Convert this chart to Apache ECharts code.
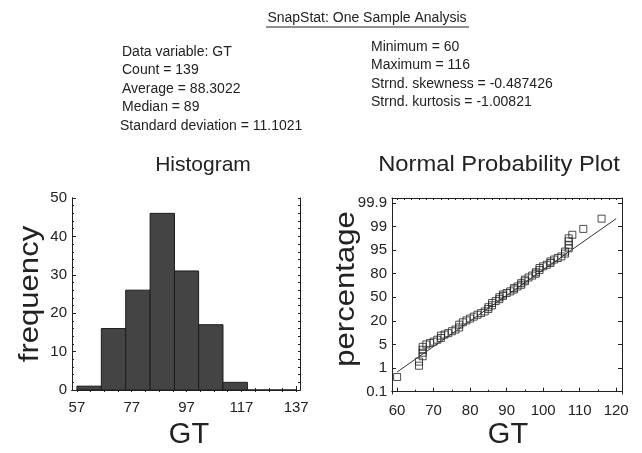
<!DOCTYPE html>
<html><head><meta charset="utf-8">
<script src="https://cdn.jsdelivr.net/npm/echarts@6/dist/echarts.min.js"></script>
<style>html,body{margin:0;padding:0;background:#fff}#c{width:642px;height:453px}</style>
</head><body><div id="c"></div>
<script>
// ---- Histogram data ----
const binStarts   = [57, 65.9, 74.8, 83.7, 92.6, 101.4, 110.3, 119.2, 128.1];
const binEnds     = [65.9, 74.8, 83.7, 92.6, 101.4, 110.3, 119.2, 128.1, 137];
const frequencies = [1, 16, 26, 46, 31, 17, 2, 0, 0];
const histXTickLabels = [57, 77, 97, 117, 137];
const histYTickLabels = [0, 10, 20, 30, 40, 50];

// ---- Normal probability plot data (GT, cumulative percentage) ----
const probGT  = [60, 66, 66, 67, 67, 67, 67, 68, 69, 70, 71, 72, 72, 73, 74, 75, 76, 77, 77, 78,
                 79, 80, 81, 82, 83, 84, 85, 85, 86, 86, 87, 88, 88, 89, 89, 90, 91, 92, 92, 93,
                 94, 94, 95, 95, 96, 97, 98, 98, 99, 99, 100, 101, 102, 102, 103, 104, 105, 106, 106, 107,
                 107, 107, 107, 108, 111, 116];
const probPct = [0.66, 1.4, 2.1, 3.0, 3.6, 4.1, 4.6, 5.0, 5.9, 6.8, 8.0, 9.1, 10.6, 11.3, 12.2, 13.4, 14.5, 15.8, 17.6, 19.1,
                 20.6, 23, 25.4, 27.8, 29.9, 32, 35, 37.4, 39.8, 42.8, 45.2, 47.6, 50, 51.8, 53.6, 55.4, 57.5, 59.9, 61.7, 63.8,
                 65.9, 68, 70.4, 72.5, 75.2, 77.6, 80, 80.9, 82.3, 83.6, 84.7, 85.7, 86.8, 87.8, 89, 90, 91, 92.8, 94.1, 95.3,
                 95.9, 96.5, 97.0, 97.6, 98.6, 99.3];
const refLineGT  = [60, 120];
const refLinePct = [0.85, 99.3];
const probYTickLabels = ['0.1', '1', '5', '20', '50', '80', '95', '99', '99.9'];
const probYTickPct    = [0.1, 1, 5, 20, 50, 80, 95, 99, 99.9];
const probXTickLabels = [60, 70, 80, 90, 100, 110, 120];

const statsLeft  = ['Data variable: GT', 'Count = 139', 'Average = 88.3022', 'Median = 89', 'Standard deviation = 11.1021'];
const statsRight = ['Minimum = 60', 'Maximum = 116', 'Strnd. skewness = -0.487426', 'Strnd. kurtosis = -1.00821'];

// probability-scale position of a percentage (axis positions of labels are evenly spaced)
function pctPos(p) {
  for (let i = 0; i < probYTickPct.length - 1; i++) {
    const a = probYTickPct[i], b = probYTickPct[i + 1];
    if (p <= b || i === probYTickPct.length - 2) return i + (p - a) / (b - a);
  }
}
function range(a, b, s) { const r = []; for (let v = a; v <= b + 1e-9; v += s) r.push(+v.toFixed(4)); return r; }

const FONT = '"Liberation Sans",Arial,sans-serif';
const C = '#222';
const lab = { color: C, fontFamily: FONT, fontSize: 15 };

function tickAxis(grid, pos, min, max, vals, len, showLabels, labelVals, fmt, margin) {
  return {
    type: 'value', gridIndex: grid, position: pos, min: min, max: max,
    axisLine: { show: true, lineStyle: { color: C, width: 1 } },
    splitLine: { show: false },
    axisTick: { show: true, inside: true, length: len, customValues: vals, lineStyle: { color: C, width: 1 } },
    axisLabel: showLabels ? Object.assign({ show: true, customValues: labelVals, margin: margin || 5, formatter: fmt }, lab) : { show: false }
  };
}

const H = { xmin: 55.2, xmax: 138.4, ymin: 0, ymax: 50 };
const P = { xmin: 58.6, xmax: 121.6, ymin: -0.1, ymax: 8.21 };

const xAxes = [
  tickAxis(0, 'bottom', H.xmin, H.xmax, histXTickLabels, 4, true, histXTickLabels, null, 10),
  tickAxis(0, 'bottom', H.xmin, H.xmax, range(57, 137, 5), 2, false),
  tickAxis(0, 'top', H.xmin, H.xmax, range(57, 137, 5), 2, false),
  tickAxis(1, 'bottom', P.xmin, P.xmax, probXTickLabels, 4, true, probXTickLabels, null, 9),
  tickAxis(1, 'bottom', P.xmin, P.xmax, range(60, 120, 5), 2, false),
  tickAxis(1, 'top', P.xmin, P.xmax, range(60, 120, 2), 2, false)
];
const yAxes = [
  tickAxis(0, 'left', H.ymin, H.ymax, histYTickLabels, 4, true, histYTickLabels),
  tickAxis(0, 'left', H.ymin, H.ymax, range(0, 50, 2), 2, false),
  tickAxis(0, 'right', H.ymin, H.ymax, range(0, 50, 2), 2, false),
  tickAxis(1, 'left', P.ymin, P.ymax, probYTickLabels.map((_, i) => i), 4, true, probYTickLabels.map((_, i) => i), v => probYTickLabels[Math.round(v)]),
  tickAxis(1, 'right', P.ymin, P.ymax, probYTickLabels.map((_, i) => i), 4, false)
];

const histData = binStarts.map((s, i) => [s, binEnds[i], frequencies[i]]);
const probData = probGT.map((g, i) => [g, pctPos(probPct[i])]);
const lineData = refLineGT.map((g, i) => [g, pctPos(refLinePct[i])]);

function txt(x, y, t, size, align, extra) {
  return Object.assign({ type: 'text', x: x, y: y, style: { text: t, fill: C, font: size + 'px ' + FONT, textAlign: align || 'left', textVerticalAlign: 'middle' } }, extra || {});
}

const graphics = [];
graphics.push(txt(367, 18, 'SnapStat: One Sample Analysis', 14, 'center'));
graphics.push({ type: 'line', shape: { x1: 266, y1: 27, x2: 469, y2: 27 }, style: { stroke: C, lineWidth: 1 } });
statsLeft.forEach((t, i) => graphics.push(txt(i === 4 ? 120 : 122, 52 + i * 18.5, t, 14)));
statsRight.forEach((t, i) => graphics.push(txt(371, 47 + i * 18.5, t, 14)));
graphics.push(txt(203, 165, 'Histogram', 21, 'center'));
graphics.push(txt(499, 165, 'Normal Probability Plot', 22, 'center', { scaleX: 1.08 }));
graphics.push(txt(31, 294, 'frequency', 27, 'center', { rotation: Math.PI / 2, scaleX: 1.15 }));
graphics.push(txt(347, 289, 'percentage', 27, 'center', { rotation: Math.PI / 2, scaleX: 1.15 }));
graphics.push(txt(189, 435, 'GT', 29, 'center'));
graphics.push(txt(508, 435, 'GT', 29, 'center'));

const chart = echarts.init(document.getElementById('c'), null, { renderer: 'canvas' });
chart.setOption({
  animation: false,
  backgroundColor: '#fff',
  grid: [
    { left: 72, top: 198, width: 228, height: 192, show: false },
    { left: 392, top: 198, width: 230, height: 196, show: false }
  ],
  xAxis: xAxes,
  yAxis: yAxes,
  graphic: graphics,
  series: [
    {
      type: 'custom', xAxisIndex: 0, yAxisIndex: 0, data: histData,
      renderItem: function (params, api) {
        const a = api.coord([api.value(0), api.value(2)]);
        const b = api.coord([api.value(1), 0]);
        return { type: 'rect', shape: { x: a[0], y: a[1], width: b[0] - a[0], height: b[1] - a[1] },
                 style: { fill: '#444', stroke: '#1c1c1c', lineWidth: 1 } };
      }
    },
    {
      type: 'line', xAxisIndex: 3, yAxisIndex: 3, data: lineData, symbol: 'none',
      lineStyle: { color: '#333', width: 1 }
    },
    {
      type: 'scatter', xAxisIndex: 3, yAxisIndex: 3, data: probData, symbol: 'rect', symbolSize: 7,
      itemStyle: { color: 'rgba(0,0,0,0)', borderColor: '#222', borderWidth: 1 }
    }
  ]
});
</script>
</body></html>
